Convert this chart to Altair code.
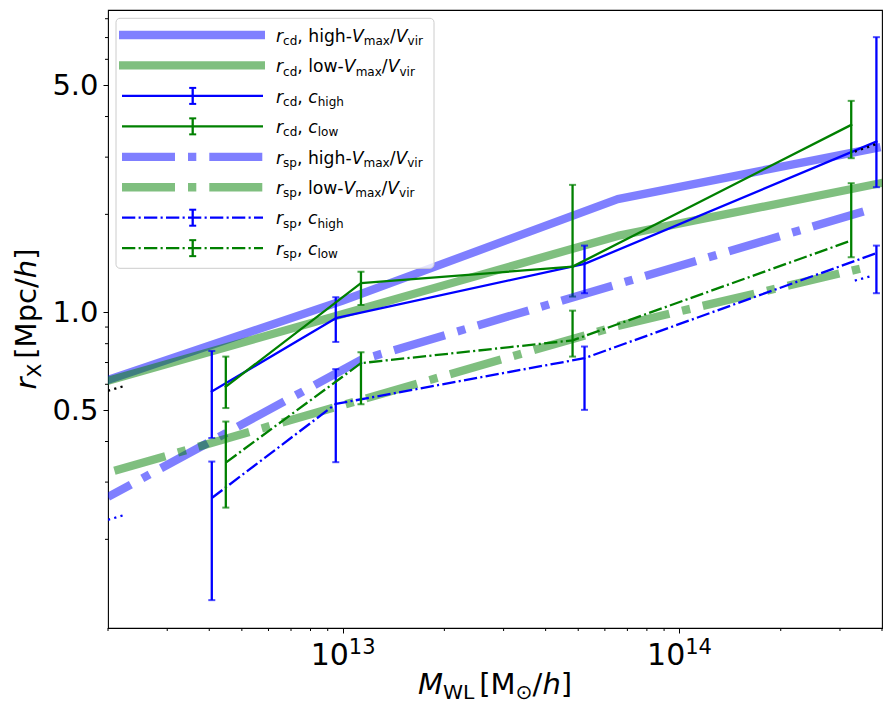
import altair as alt
import pandas as pd

# ---------------- data ----------------
x_domain = [2.0e12, 4.0e14]
y_domain = [0.1067, 8.51]

# thick model curves (drawn with alpha 0.5)
cd_high_m = [2.0e12, 9.93e12, 6.55e13, 3.85e14]
cd_high_r = [0.619, 1.083, 2.227, 3.203]
cd_low_m = [2.0e12, 6.55e13, 4.0e14]
cd_low_r = [0.615, 1.717, 2.500]
sp_high_m = [2.0e12, 1.13e13, 3.75e14]
sp_high_r = [0.270, 0.713, 2.080]
sp_low_m = [2.09e12, 6.55e13, 3.75e14]
sp_low_r = [0.325, 0.907, 1.390]

# binned measurements with error bars
chigh_m = [4.07e12, 9.51e12, 5.22e13, 3.85e14]
clow_m = [4.48e12, 1.13e13, 4.81e13, 3.24e14]

cd_chigh = [0.570, 0.958, 1.408, 3.349]
cd_chigh_lo = [0.410, 0.810, 1.144, 2.425]
cd_chigh_hi = [0.760, 1.112, 1.603, 7.02]
cd_clow = [0.590, 1.228, 1.381, 3.77]
cd_clow_lo = [0.507, 1.053, 1.117, 2.978]
cd_clow_hi = [0.730, 1.333, 2.465, 4.47]
sp_chigh = [0.268, 0.522, 0.722, 1.519]
sp_chigh_lo = [0.130, 0.3455, 0.5005, 1.144]
sp_chigh_hi = [0.347, 0.668, 0.784, 1.603]
sp_clow = [0.3445, 0.697, 0.819, 1.661]
sp_clow_lo = [0.2504, 0.521, 0.730, 1.476]
sp_clow_hi = [0.4607, 0.753, 1.011, 2.494]

# short dotted segments at the edges
dotk_left_m = [2.0e12, 2.24e12]
dotk_left_r = [0.573, 0.593]
dotb_left_m = [2.0e12, 2.24e12]
dotb_left_r = [0.2296, 0.2378]
dotk_right_m = [3.32e14, 3.86e14]
dotk_right_r = [3.12, 3.295]
dotb_right_m = [3.32e14, 3.73e14]
dotb_right_r = [1.251, 1.293]

# ticks
x_major = [1e13, 1e14]
x_major_base = ["10", "10"]
x_major_exp = ["13", "14"]
x_minor = [2e12, 3e12, 4e12, 5e12, 6e12, 7e12, 8e12, 9e12,
           2e13, 3e13, 4e13, 5e13, 6e13, 7e13, 8e13, 9e13,
           2e14, 3e14, 4e14]
y_major = [0.5, 1.0, 5.0]
y_minor = [0.2, 0.3, 0.4, 0.6, 0.7, 0.8, 0.9, 2, 3, 4, 6, 7, 8]

# legend entries: (pieces, style key)
legend_rows = [
    ([("r", "it"), ("cd", "sub"), (", high-", "rm"), ("V", "it"), ("max", "sub"), ("/", "rm"), ("V", "it"), ("vir", "sub")], "thick_blue_solid"),
    ([("r", "it"), ("cd", "sub"), (", low-", "rm"), ("V", "it"), ("max", "sub"), ("/", "rm"), ("V", "it"), ("vir", "sub")], "thick_green_solid"),
    ([("r", "it"), ("cd", "sub"), (", ", "rm"), ("c", "it"), ("high", "sub")], "thin_blue_solid"),
    ([("r", "it"), ("cd", "sub"), (", ", "rm"), ("c", "it"), ("low", "sub")], "thin_green_solid"),
    ([("r", "it"), ("sp", "sub"), (", high-", "rm"), ("V", "it"), ("max", "sub"), ("/", "rm"), ("V", "it"), ("vir", "sub")], "thick_blue_dd"),
    ([("r", "it"), ("sp", "sub"), (", low-", "rm"), ("V", "it"), ("max", "sub"), ("/", "rm"), ("V", "it"), ("vir", "sub")], "thick_green_dd"),
    ([("r", "it"), ("sp", "sub"), (", ", "rm"), ("c", "it"), ("high", "sub")], "thin_blue_dd"),
    ([("r", "it"), ("sp", "sub"), (", ", "rm"), ("c", "it"), ("low", "sub")], "thin_green_dd"),
]
xtitle_pieces = [("M", "it"), ("WL", "sub"), (0.17, "gap"), ("[M", "rm"), ("\u2299", "sub"), ("/", "rm"), ("h", "it"), ("]", "rm")]
ytitle_pieces = [("r", "it"), ("X", "sub"), (0.17, "gap"), ("[Mpc/", "rm"), ("h", "it"), ("]", "rm")]

# ---------------- styling / layout ----------------
FONT = "DejaVu Sans"
W_PLOT, H_PLOT = 774, 618
BLUE, GREEN = "#0000ff", "#008000"
THICK = 8.3
THIN = 2.3
DD_THICK = [53, 13, 8.3, 13]
DD_THIN = [13.3, 3.3, 2.1, 3.3]
DOT = [2.2, 4.3]

styles = {
    "thick_blue_solid": dict(color=BLUE, opacity=0.5, strokeWidth=THICK),
    "thick_green_solid": dict(color=GREEN, opacity=0.5, strokeWidth=THICK),
    "thin_blue_solid": dict(color=BLUE, opacity=1, strokeWidth=THIN),
    "thin_green_solid": dict(color=GREEN, opacity=1, strokeWidth=THIN),
    "thick_blue_dd": dict(color=BLUE, opacity=0.5, strokeWidth=THICK, strokeDash=DD_THICK),
    "thick_green_dd": dict(color=GREEN, opacity=0.5, strokeWidth=THICK, strokeDash=DD_THICK),
    "thin_blue_dd": dict(color=BLUE, opacity=1, strokeWidth=THIN, strokeDash=DD_THIN),
    "thin_green_dd": dict(color=GREEN, opacity=1, strokeWidth=THIN, strokeDash=DD_THIN),
}

CW = {' ': 0.318, ',': 0.318, '-': 0.361, '/': 0.337, 'a': 0.613, 'c': 0.550, 'd': 0.635,
      'g': 0.635, 'h': 0.634, 'i': 0.278, 'l': 0.278, 'm': 0.974, 'o': 0.612, 'p': 0.635,
      'r': 0.411, 's': 0.521, 'v': 0.592, 'w': 0.818, 'x': 0.592, 'V': 0.684, 'M': 0.863,
      'W': 0.989, 'L': 0.557, 'X': 0.686, '[': 0.390, ']': 0.390, '\u2299': 0.838,
      '0': 0.636, '1': 0.636, '3': 0.636, '4': 0.636}

one = pd.DataFrame({"k": [0]})

xs = alt.Scale(type="log", domain=x_domain, nice=False, zero=False)
ys = alt.Scale(type="log", domain=y_domain, nice=False, zero=False)
x_axis = alt.Axis(values=x_major, labels=False, tickSize=5, tickColor="black", tickWidth=1,
                  domain=False, grid=False, title=None)
y_axis = alt.Axis(values=y_major, format=".1f", labelFont=FONT, labelFontSize=29, labelColor="black",
                  labelPadding=5, tickSize=5, tickColor="black", tickWidth=1, domain=False,
                  grid=False, title=None)


def X(f="M"):
    return alt.X(f"{f}:Q", scale=xs, axis=x_axis)


def Y(f="r"):
    return alt.Y(f"{f}:Q", scale=ys, axis=y_axis)


def line_layer(m, r, style, dash_offset=0):
    df = pd.DataFrame({"M": m, "r": r, "i": list(range(len(m)))})
    kw = dict(styles[style]) if isinstance(style, str) else dict(style)
    if dash_offset:
        kw["strokeDashOffset"] = dash_offset
    cap = "square" if ("strokeDash" not in kw) else "butt"
    return alt.Chart(df).mark_line(clip=True, strokeJoin="round", strokeCap=cap, **kw).encode(
        x=X(), y=Y(), order="i:Q")


def errbar_layers(m, r, lo, hi, color):
    df = pd.DataFrame({"M": m, "r": r, "lo": lo, "hi": hi})
    caps = pd.DataFrame({"M": m + m, "r": lo + hi})
    bars = alt.Chart(df).mark_rule(color=color, strokeWidth=THIN, clip=True).encode(
        x=X(), y=Y("lo"), y2=alt.Y2("hi:Q"))
    ticks = alt.Chart(caps).mark_tick(color=color, orient="horizontal", size=7, thickness=2,
                                      clip=True).encode(x=X(), y=Y())
    return [bars, ticks]


def layout_pieces(pieces, F):
    items, off = [], 0.0
    for txt, kind in pieces:
        if kind == "gap":
            off += txt * F
            continue
        size = 0.7 * F if kind in ("sub", "sup") else F
        style = "italic" if kind == "it" else "normal"
        dy = 0.2 * F if kind == "sub" else (-0.37 * F if kind == "sup" else 0)
        items.append((txt, size, style, off, dy))
        off += sum(CW.get(ch, 0.6) for ch in txt) * size
    return items, off


def text_layers(pieces, F, x, y, angle=0, center=False):
    items, total = layout_pieces(pieces, F)
    shift = -total / 2 if center else 0
    out = []
    for txt, size, style, o, dy in items:
        mk = dict(text=txt, align="left", baseline="alphabetic", font=FONT, fontSize=size,
                  fontStyle=style, dx=o + shift, dy=dy, color="black")
        if angle:
            mk["angle"] = angle
        out.append(alt.Chart(one).mark_text(**mk).encode(x=alt.value(x), y=alt.value(y)))
    return out


layers = []
# data curves in plotting order
layers.append(line_layer(cd_high_m, cd_high_r, "thick_blue_solid"))
layers.append(line_layer(cd_low_m, cd_low_r, "thick_green_solid"))
layers.append(line_layer(chigh_m, cd_chigh, "thin_blue_solid"))
layers += errbar_layers(chigh_m, cd_chigh, cd_chigh_lo, cd_chigh_hi, BLUE)
layers.append(line_layer(clow_m, cd_clow, "thin_green_solid"))
layers += errbar_layers(clow_m, cd_clow, cd_clow_lo, cd_clow_hi, GREEN)
layers.append(line_layer(sp_high_m, sp_high_r, "thick_blue_dd", dash_offset=27))
layers.append(line_layer(sp_low_m, sp_low_r, "thick_green_dd"))
layers.append(line_layer(chigh_m, sp_chigh, "thin_blue_dd"))
layers += errbar_layers(chigh_m, sp_chigh, sp_chigh_lo, sp_chigh_hi, BLUE)
layers.append(line_layer(clow_m, sp_clow, "thin_green_dd"))
layers += errbar_layers(clow_m, sp_clow, sp_clow_lo, sp_clow_hi, GREEN)
# dotted edge segments
dot_k = dict(color="black", strokeWidth=THIN, strokeDash=DOT)
dot_b = dict(color=BLUE, strokeWidth=THIN, strokeDash=DOT)
layers.append(line_layer(dotk_left_m, dotk_left_r, dot_k))
layers.append(line_layer(dotb_left_m, dotb_left_r, dot_b))
layers.append(line_layer(dotk_right_m, dotk_right_r, dot_k))
layers.append(line_layer(dotb_right_m, dotb_right_r, dot_b))

# minor ticks
layers.append(alt.Chart(pd.DataFrame({"M": x_minor})).mark_rule(color="black", strokeWidth=1).encode(
    x=X(), y=alt.value(H_PLOT), y2=alt.value(H_PLOT + 3)))
layers.append(alt.Chart(pd.DataFrame({"r": y_minor})).mark_rule(color="black", strokeWidth=1).encode(
    y=Y(), x=alt.value(0), x2=alt.value(-3)))

# x tick labels 10^13, 10^14
tick_df = pd.DataFrame({"M": x_major, "base": x_major_base, "exp": x_major_exp})
w_base = 1.272 * 30
w_exp = 1.272 * 21
start = -(w_base + w_exp) / 2
layers.append(alt.Chart(tick_df).mark_text(align="left", baseline="alphabetic", font=FONT, fontSize=30,
                                           dx=start, color="black").encode(
    x=X(), y=alt.value(654.5), text="base:N"))
layers.append(alt.Chart(tick_df).mark_text(align="left", baseline="alphabetic", font=FONT, fontSize=21,
                                           dx=start + w_base, dy=-11, color="black").encode(
    x=X(), y=alt.value(654.5), text="exp:N"))

# axis titles
layers += text_layers(xtitle_pieces, 29, W_PLOT / 2, 683.5, center=True)
_, ytot = layout_pieces(ytitle_pieces, 29)
layers += text_layers(ytitle_pieces, 29, -72.5, H_PLOT / 2 + ytot / 2, angle=270)

# legend
layers.append(alt.Chart(one).mark_rect(fill="white", fillOpacity=0.8, stroke="#cccccc", strokeWidth=1,
                                       cornerRadius=4).encode(
    x=alt.value(8), x2=alt.value(326), y=alt.value(8.3), y2=alt.value(258.3)))
ROW0, DROW = 25.0, 30.45
for i, (pieces, skey) in enumerate(legend_rows):
    cy = ROW0 + DROW * i
    st = dict(styles[skey])
    thick = st["strokeWidth"] > 5
    x0, x1 = (11, 157) if (thick and "strokeDash" not in st) else (14, 155)
    layers.append(alt.Chart(one).mark_rule(**st).encode(
        x=alt.value(x0), x2=alt.value(x1), y=alt.value(cy)))
    if not thick:
        layers.append(alt.Chart(one).mark_rule(color=st["color"], strokeWidth=THIN).encode(
            x=alt.value(84.7), y=alt.value(cy - 8), y2=alt.value(cy + 8)))
        for yy in (cy - 8, cy + 8):
            layers.append(alt.Chart(one).mark_rule(color=st["color"], strokeWidth=2).encode(
                x=alt.value(81.2), x2=alt.value(88.2), y=alt.value(yy)))
    layers += text_layers(pieces, 17.2, 168, cy + 6.7)

chart = alt.layer(*layers).properties(
    width=W_PLOT, height=H_PLOT,
    autosize=alt.AutoSizeParams(type="none"),
    padding={"left": 100, "top": 2, "right": 1, "bottom": 80},
    background="white",
).configure_view(stroke="black", strokeWidth=1.1)

chart.save("out.html", embed_options={"renderer": "svg", "actions": False})
